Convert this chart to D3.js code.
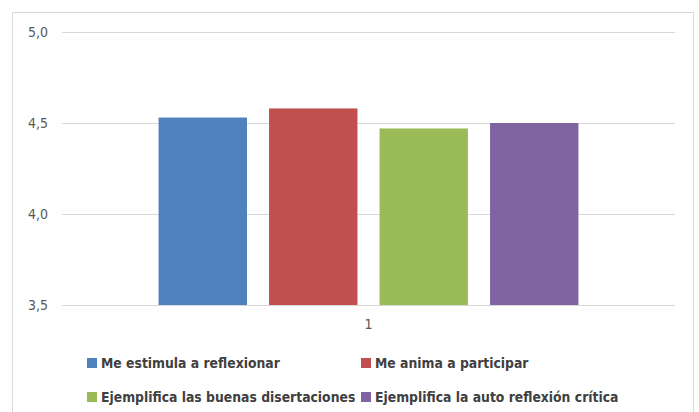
<!DOCTYPE html>
<html>
<head>
<meta charset="utf-8">
<script src="https://cdn.jsdelivr.net/npm/d3@7"></script>
<style>
  html, body { margin: 0; padding: 0; background: #fff; }
  svg { display: block; }
  text { font-family: "DejaVu Sans Condensed", "Liberation Sans Narrow", "Open Sans", sans-serif; }
</style>
</head>
<body>
<svg id="chart" width="699" height="412"></svg>
<script>
// Category on the x axis
const categories = ["1"];
// Series names (legend order) and their mean scores
const seriesNames = [
  "Me estimula a reflexionar",
  "Me anima a participar",
  "Ejemplifica las buenas disertaciones",
  "Ejemplifica la auto reflexión crítica"
];
const seriesValues = [4.53, 4.58, 4.47, 4.50];
const seriesColors = ["#4F81BD", "#C0504D", "#9BBB59", "#8064A2"];
// Value axis ticks
const yTicks = [3.5, 4.0, 4.5, 5.0];

const svg = d3.select("#chart");

// Outer chart frame
svg.append("rect")
  .attr("x", 12.5).attr("y", 12.5)
  .attr("width", 681).attr("height", 420)
  .attr("fill", "#fff").attr("stroke", "#d9d9d9").attr("stroke-width", 1);

const plot = { left: 62, right: 675, top: 32, bottom: 305 };

const y = d3.scaleLinear().domain([3.5, 5.0]).range([plot.bottom, plot.top]);
const x0 = d3.scaleBand().domain(categories).range([plot.left, plot.right]).paddingInner(0).paddingOuter(0.23);
const x1 = d3.scaleBand().domain(d3.range(seriesNames.length)).range([0, x0.bandwidth()]).paddingInner(0.2).paddingOuter(0);

// Horizontal gridlines
svg.append("g")
  .selectAll("line")
  .data(yTicks)
  .join("line")
  .attr("x1", plot.left).attr("x2", plot.right)
  .attr("y1", d => Math.round(y(d)) + 0.5).attr("y2", d => Math.round(y(d)) + 0.5)
  .attr("stroke", "#d9d9d9").attr("stroke-width", 1);

// Value axis labels
const fmt = d => d3.format(".1f")(d).replace(".", ",");
const yAxis = d3.axisLeft(y).tickValues(yTicks).tickFormat(fmt).tickSize(0).tickPadding(14);
const gy = svg.append("g").attr("transform", `translate(${plot.left},0)`).call(yAxis);
gy.select(".domain").remove();
gy.selectAll("text")
  .attr("fill", "#595959").attr("font-size", 14)
  .style("font-family", "'DejaVu Sans Condensed', sans-serif");

// Bars
const groups = svg.append("g")
  .selectAll("g")
  .data(categories)
  .join("g")
  .attr("transform", d => `translate(${x0(d)},0)`);

groups.selectAll("rect")
  .data(() => seriesValues.map((v, i) => ({ v, i })))
  .join("rect")
  .attr("x", d => x1(d.i))
  .attr("y", d => y(d.v))
  .attr("width", x1.bandwidth())
  .attr("height", d => y(3.5) - y(d.v))
  .attr("fill", d => seriesColors[d.i]);

// Category axis label
const xAxis = d3.axisBottom(x0).tickSize(0).tickPadding(14);
const gx = svg.append("g").attr("transform", `translate(0,${plot.bottom})`).call(xAxis);
gx.select(".domain").remove();
gx.selectAll("text")
  .attr("fill", "#595959").attr("font-size", 14)
  .style("font-family", "'DejaVu Sans Condensed', sans-serif");

// Legend: two columns, two rows
const legendCols = [87, 361];
const legendRows = [363, 397];
const legend = svg.append("g");
seriesNames.forEach((name, i) => {
  const lx = legendCols[i % 2], ly = legendRows[Math.floor(i / 2)];
  const item = legend.append("g").attr("transform", `translate(${lx},${ly})`);
  item.append("rect")
    .attr("x", 0).attr("y", -5).attr("width", 10).attr("height", 10)
    .attr("fill", seriesColors[i]);
  item.append("text")
    .attr("x", 14).attr("y", 0).attr("dy", "0.35em")
    .attr("fill", "#404040").attr("font-size", 13.8).attr("font-weight", "bold")
    .text(name);
});
</script>
</body>
</html>
